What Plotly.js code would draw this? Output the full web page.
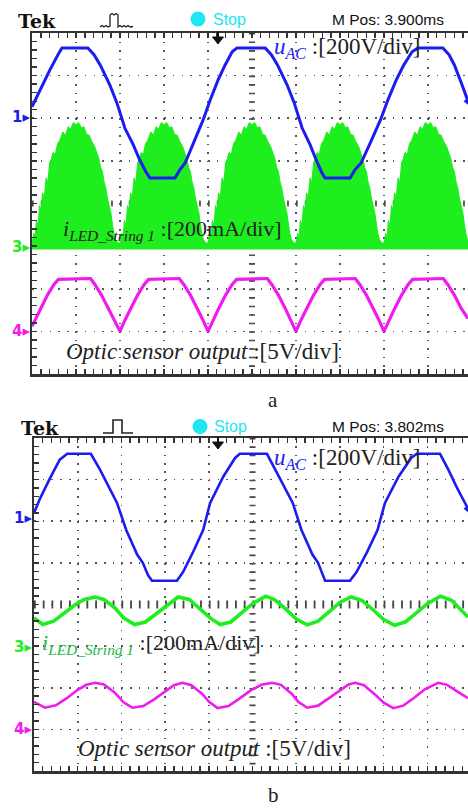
<!DOCTYPE html>
<html><head><meta charset="utf-8">
<script src="https://cdn.plot.ly/plotly-3.0.1.min.js"></script>
<style>html,body{margin:0;padding:0;background:#fff;} #chart{width:468px;height:808px;}</style>
</head><body><div id="chart"></div>
<script>
// ---------- DATA (divisions: x 0..10, y 0..8) ----------
// Panel a
const blueAX = [0,0.18,0.41,0.59,0.68,1.27,1.41,1.55,1.77,1.93,2.11,2.30,2.45,2.59,2.68,3.25,3.36,3.48,3.70,3.89,4.05,4.23,4.39,4.55,4.66,5.30,5.44,5.58,5.80,5.96,6.14,6.32,6.46,6.58,6.66,7.23,7.34,7.48,7.72,7.92,8.09,8.28,8.45,8.64,8.77,9.34,9.48,9.60,9.75,9.91];
const blueAY = [6.27,6.67,7.14,7.49,7.65,7.65,7.49,7.25,6.78,6.36,5.77,5.38,5.02,4.74,4.6,4.6,4.79,4.95,5.49,5.96,6.43,6.9,7.25,7.56,7.65,7.65,7.49,7.25,6.78,6.36,5.77,5.38,5.02,4.74,4.6,4.6,4.79,4.95,5.49,5.96,6.43,6.9,7.25,7.56,7.65,7.65,7.49,7.25,6.85,6.4];

const greenHumpCenters = [1,3,5,7,9];
const greenHumpOffset = [-1.0,-0.96,-0.93,-0.9,-0.86,-0.83,-0.79,-0.76,-0.72,-0.68,-0.64,-0.6,-0.56,-0.52,-0.47,-0.42,-0.36,-0.3,-0.24,-0.18,-0.12,-0.06,0,0.06,0.12,0.18,0.24,0.3,0.36,0.42,0.47,0.52,0.56,0.6,0.64,0.68,0.72,0.76,0.79,0.83,0.86,0.9,0.93,0.96,1.0];
const greenHumpTop = [3.05,3.3,3.2,3.6,3.5,3.95,3.85,4.25,4.15,4.6,4.5,4.95,5.05,5.2,5.15,5.4,5.5,5.68,5.6,5.8,5.75,5.9,5.85,5.9,5.78,5.8,5.62,5.6,5.45,5.35,5.2,5.05,4.85,4.75,4.5,4.35,4.1,3.95,3.8,3.5,3.3,3.15,3.1,3.05,3.0];
const greenBaseAX = [0, 9.91];
const greenBaseAY = [3.0, 3.0];

const magAX = [0,0.2,0.35,0.5,0.6,1.33,1.43,1.58,1.73,1.87,2.0,2.12,2.25,2.4,2.55,2.65,3.35,3.45,3.6,3.75,3.88,4.0,4.12,4.25,4.4,4.55,4.65,5.35,5.45,5.6,5.75,5.88,6.0,6.12,6.25,6.4,6.55,6.65,7.35,7.45,7.6,7.75,7.88,8.0,8.12,8.25,8.4,8.55,8.65,9.35,9.45,9.6,9.75,9.91];
const magAY = [1.12,1.55,1.85,2.1,2.22,2.24,2.1,1.85,1.55,1.28,1.0,1.28,1.55,1.85,2.1,2.22,2.24,2.1,1.85,1.55,1.28,1.0,1.28,1.55,1.85,2.1,2.22,2.24,2.1,1.85,1.55,1.28,1.0,1.28,1.55,1.85,2.1,2.22,2.24,2.1,1.85,1.55,1.28,1.0,1.28,1.55,1.85,2.1,2.22,2.24,2.1,1.85,1.55,1.3];

// Panel b
const blueBX = [0,0.14,0.37,0.59,0.76,1.30,1.51,1.72,1.90,2.11,2.36,2.49,2.61,2.70,3.27,3.41,3.64,3.87,4.03,4.33,4.60,4.71,5.33,5.52,5.73,5.92,6.12,6.37,6.50,6.60,6.66,7.23,7.38,7.62,7.86,8.03,8.34,8.63,8.76,9.29,9.48,9.68,9.93];
const blueBY = [6.2,6.55,7.04,7.48,7.62,7.62,7.24,6.8,6.44,5.79,5.2,5.0,4.7,4.57,4.57,4.78,5.26,5.79,6.44,7.07,7.52,7.62,7.62,7.24,6.8,6.44,5.79,5.2,5.0,4.7,4.57,4.57,4.78,5.26,5.79,6.44,7.07,7.52,7.62,7.62,7.24,6.8,6.3];

const greenBX = [0,0.2,0.45,0.7,0.95,1.15,1.4,1.6,1.85,2.05,2.3,2.55,2.8,3.05,3.3,3.55,3.8,4.05,4.26,4.5,4.75,5.0,5.3,5.5,5.75,6.0,6.25,6.5,6.75,7.0,7.25,7.5,7.75,8.0,8.25,8.5,8.75,9.0,9.3,9.55,9.93];
const greenBY = [3.68,3.52,3.6,3.8,4.0,4.12,4.18,4.12,3.92,3.68,3.52,3.58,3.78,4.0,4.18,4.12,3.9,3.66,3.52,3.58,3.8,4.02,4.2,4.12,3.9,3.65,3.51,3.6,3.82,4.05,4.18,4.1,3.88,3.64,3.5,3.58,3.8,4.02,4.2,4.1,3.7];

const magBX = [0,0.25,0.5,0.75,1.0,1.2,1.4,1.6,1.85,2.05,2.25,2.5,2.75,3.0,3.2,3.4,3.6,3.85,4.0,4.2,4.45,4.7,4.95,5.2,5.45,5.65,5.9,6.05,6.25,6.5,6.75,7.0,7.2,7.35,7.55,7.8,8.0,8.22,8.45,8.7,8.95,9.25,9.45,9.7,9.93];
const magBY = [1.66,1.52,1.58,1.75,1.95,2.07,2.12,2.08,1.88,1.65,1.52,1.56,1.72,1.92,2.06,2.12,2.06,1.85,1.67,1.51,1.56,1.74,1.93,2.07,2.12,2.07,1.85,1.66,1.52,1.57,1.75,1.95,2.08,2.12,2.06,1.84,1.64,1.51,1.57,1.76,1.97,2.12,2.07,1.9,1.75];

// ---------- STYLE ----------
const W = 468, H = 808;
const BLUE = '#1c1cf0', GREEN = '#1eee1e', MAG = '#ee1cee', CYAN = '#1ee6f2';
const px = x => x / W, py = y => 1 - y / H;

const traces = [];
greenHumpCenters.forEach(c => {
  const xs = greenHumpOffset.map(o => c + o);
  const ys = greenHumpTop.slice();
  xs.push(c + 1, c - 1); ys.push(3, 3);
  traces.push({x: xs, y: ys, xaxis: 'x', yaxis: 'y', mode: 'lines', fill: 'toself',
    fillcolor: GREEN, line: {color: GREEN, width: 1}, hoverinfo: 'skip'});
});
traces.push({x: greenBaseAX, y: greenBaseAY, xaxis: 'x', yaxis: 'y', mode: 'lines', line: {color: GREEN, width: 7}});
traces.push({x: magAX, y: magAY, xaxis: 'x', yaxis: 'y', mode: 'lines', line: {color: MAG, width: 3.2}});
traces.push({x: blueAX, y: blueAY, xaxis: 'x', yaxis: 'y', mode: 'lines', line: {color: BLUE, width: 3}});
traces.push({x: blueAX.slice(-1), y: blueAY.slice(-1), xaxis: 'x', yaxis: 'y', mode: 'markers', cliponaxis: false,
  marker: {symbol: 'triangle-left', size: 9, color: BLUE}});

traces.push({x: blueBX, y: blueBY, xaxis: 'x2', yaxis: 'y2', mode: 'lines', line: {color: BLUE, width: 2.6}});
traces.push({x: greenBX, y: greenBY, xaxis: 'x2', yaxis: 'y2', mode: 'lines', line: {color: GREEN, width: 3.6}});
traces.push({x: magBX, y: magBY, xaxis: 'x2', yaxis: 'y2', mode: 'lines', line: {color: MAG, width: 2.6}});
traces.push({x: blueBX.slice(-1), y: blueBY.slice(-1), xaxis: 'x2', yaxis: 'y2', mode: 'markers', cliponaxis: false,
  marker: {symbol: 'triangle-left', size: 9, color: BLUE}});

function axX(dom, rng, anchor, dash) {
  return {domain: dom, range: rng, anchor: anchor, showgrid: true, tick0: 0, dtick: 1,
    gridcolor: '#555', gridwidth: 1.6, griddash: dash, zeroline: false,
    showline: true, linecolor: '#333', linewidth: 2.5, mirror: 'ticks',
    ticks: 'inside', ticklen: 5, tickwidth: 1.4, tickcolor: '#333', showticklabels: false,
    minor: {dtick: 0.2, tick0: 0, ticks: 'inside', ticklen: 5, tickwidth: 1.4, tickcolor: '#333', showgrid: false},
    fixedrange: true};
}
function axY(dom, anchor, dash) {
  return {domain: dom, range: [0, 8], anchor: anchor, showgrid: true, tick0: 0, dtick: 1,
    gridcolor: '#555', gridwidth: 1.6, griddash: dash, zeroline: false,
    showline: true, linecolor: '#333', linewidth: 2.5, mirror: false,
    ticks: 'inside', ticklen: 5, tickwidth: 1.4, tickcolor: '#333', showticklabels: false,
    minor: {dtick: 0.2, tick0: 0, ticks: 'inside', ticklen: 5, tickwidth: 1.4, tickcolor: '#333', showgrid: false},
    fixedrange: true};
}

function path(pts, close) {
  return pts.map((p, i) => (i ? 'L' : 'M') + px(p[0]).toFixed(5) + ',' + py(p[1]).toFixed(5)).join(' ') + (close ? ' Z' : '');
}

const shapes = [
  {type: 'line', xref: 'x', yref: 'y', x0: 5, x1: 5, y0: 8, y1: 0, layer: 'below', line: {color: '#444', width: 6, dash: '1.6px,6.92px'}},
  {type: 'line', xref: 'x', yref: 'y', x0: 0, x1: 9.91, y0: 4, y1: 4, layer: 'below', line: {color: '#444', width: 6, dash: '1.6px,7.2px'}},
  {type: 'line', xref: 'x2', yref: 'y2', x0: 5, x1: 5, y0: 8, y1: 0, layer: 'below', line: {color: '#444', width: 6, dash: '1.6px,6.73px'}},
  {type: 'line', xref: 'x2', yref: 'y2', x0: 0, x1: 9.93, y0: 4, y1: 4, layer: 'below', line: {color: '#444', width: 8, dash: '1.8px,6.94px'}},
  {type: 'circle', xref: 'paper', yref: 'paper', x0: px(190.5), x1: px(205.5), y0: py(26.5), y1: py(11.5), fillcolor: CYAN, line: {width: 0}},
  {type: 'circle', xref: 'paper', yref: 'paper', x0: px(192.5), x1: px(207.5), y0: py(434), y1: py(419), fillcolor: CYAN, line: {width: 0}},
  {type: 'path', xref: 'paper', yref: 'paper', path: path([[212.5,37],[223.5,37],[218,44]], true), fillcolor: '#111', line: {color: '#111', width: 1}},
  {type: 'line', xref: 'paper', yref: 'paper', x0: px(218), x1: px(218), y0: py(32), y1: py(38), line: {color: '#111', width: 2}},
  {type: 'path', xref: 'paper', yref: 'paper', path: path([[212.5,442],[223.5,442],[218,449]], true), fillcolor: '#111', line: {color: '#111', width: 1}},
  {type: 'line', xref: 'paper', yref: 'paper', x0: px(218), x1: px(218), y0: py(437), y1: py(443), line: {color: '#111', width: 2}},
  {type: 'path', xref: 'paper', yref: 'paper', path: path([[100,27],[102,25.5],[104,27],[106,25.5],[108,27],[110,26],[110,15],[112,13.5],[114,15],[116,13.5],[118,15],[118,27],[120,25.5],[122,27],[124,25.5],[126,27],[128,25.5],[130,27],[133,26.5]]), line: {color: '#222', width: 1.3}},
  {type: 'path', xref: 'paper', yref: 'paper', path: path([[103,433],[113,433],[113,420],[122,420],[122,433],[133,433]]), line: {color: '#222', width: 1.6}}
];

const serif = 'Liberation Serif, Times New Roman, serif';
const sans = 'Liberation Sans, Arial, sans-serif';
const djv = 'DejaVu Sans, sans-serif';
function ann(text, x, y, size, color, family, xanchor) {
  return {text: text, x: px(x), y: py(y), xref: 'paper', yref: 'paper', xanchor: xanchor || 'left', yanchor: 'middle',
    showarrow: false, font: {size: size, color: color, family: family}};
}
const annotations = [
  ann('<b>Tek</b>', 16, 21, 19, '#111', 'DejaVu Serif, serif'),
  ann('Stop', 211, 19.5, 16, CYAN, sans),
  ann('M Pos: 3.900ms', 330, 19.5, 15.5, '#111', sans),
  ann('<span style="color:' + BLUE + '"><i>u</i><sub><i>AC</i></sub></span> :[200V/div]', 272, 48, 23, '#222', serif),
  ann('<i>i</i><sub><i>LED_String 1</i></sub> :[200mA/div]', 61, 230, 22, '#222', serif),
  ann('<i>Optic sensor output</i> :[5V/div]', 64, 351, 23, '#222', serif),
  ann('<b>1▸</b>', 32, 117, 15, BLUE, djv, 'right'),
  ann('<b>3▸</b>', 32, 247, 15, GREEN, djv, 'right'),
  ann('<b>4▸</b>', 32, 331, 15, MAG, djv, 'right'),
  ann('a', 273, 400, 21, '#222', serif, 'center'),

  ann('<b>Tek</b>', 19, 428, 19, '#111', 'DejaVu Serif, serif'),
  ann('Stop', 212, 426.5, 16, CYAN, sans),
  ann('M Pos: 3.802ms', 330, 426.5, 15.5, '#111', sans),
  ann('<span style="color:' + BLUE + '"><i>u</i><sub><i>AC</i></sub></span> :[200V/div]', 272, 459, 23, '#222', serif),
  ann('<span style="color:#22b844"><i>i</i><sub><i>LED_String 1</i></sub></span> :[200mA/div]', 40, 644, 22, '#222', serif),
  ann('<i>Optic sensor output</i> :[5V/div]', 76, 748, 23, '#222', serif),
  ann('<b>1▸</b>', 34, 518, 15, BLUE, djv, 'right'),
  ann('<b>3▸</b>', 34, 647, 15, GREEN, djv, 'right'),
  ann('<b>4▸</b>', 34, 729, 15, MAG, djv, 'right'),
  ann('b', 273, 795, 21, '#222', serif, 'center')
];

const layout = {
  width: W, height: H, margin: {l: 0, r: 0, t: 0, b: 0},
  paper_bgcolor: '#fff', plot_bgcolor: '#fff', showlegend: false,
  xaxis: axX([32 / W, 1], [0, 9.91], 'y', '1.6px,6.92px'),
  yaxis: axY([1 - 374 / H, 1 - 33 / H], 'x', '1.6px,7.2px'),
  xaxis2: axX([34 / W, 1], [0, 9.93], 'y2', '1.6px,6.73px'),
  yaxis2: axY([1 - 771 / H, 1 - 438 / H], 'x2', '1.6px,7.14px'),
  shapes: shapes, annotations: annotations
};
Plotly.newPlot('chart', traces, layout, {staticPlot: true, displayModeBar: false});
</script></body></html>
